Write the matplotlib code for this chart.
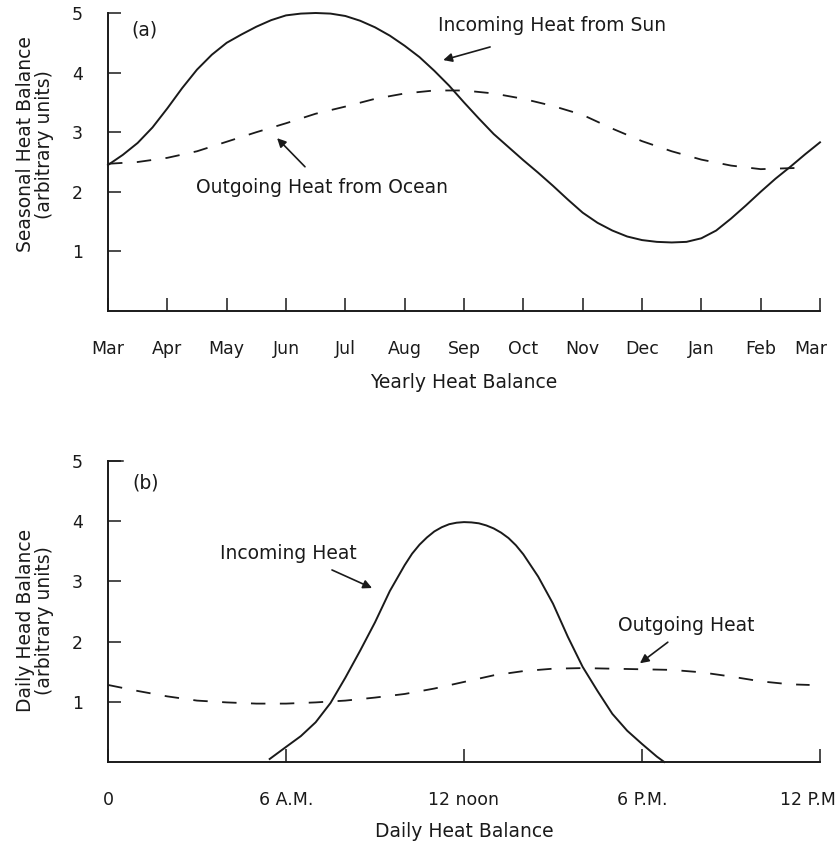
import matplotlib
matplotlib.use("Agg")
import matplotlib.pyplot as plt
from matplotlib.transforms import ScaledTranslation

# ---------------- data ----------------
month_labels = ["Mar", "Apr", "May", "Jun", "Jul", "Aug", "Sep", "Oct",
                "Nov", "Dec", "Jan", "Feb", "Mar"]
month_ticks = list(range(13))

sun_x = [0, 0.25, 0.5, 0.75, 1.0, 1.25, 1.5, 1.75, 2.0, 2.25, 2.5, 2.75,
         3.0, 3.25, 3.5, 3.75, 4.0, 4.25, 4.5, 4.75, 5.0, 5.25, 5.5, 5.75,
         6.0, 6.25, 6.5, 6.75, 7.0, 7.25, 7.5, 7.75, 8.0, 8.25, 8.5, 8.75,
         9.0, 9.25, 9.5, 9.75, 10.0, 10.25, 10.5, 10.75, 11.0, 11.25, 11.5,
         11.75, 12.0]
sun_y = [2.45, 2.62, 2.82, 3.08, 3.4, 3.74, 4.05, 4.3, 4.5, 4.64, 4.77,
         4.88, 4.96, 4.99, 5.0, 4.99, 4.95, 4.87, 4.76, 4.62, 4.45, 4.26,
         4.03, 3.78, 3.5, 3.23, 2.97, 2.75, 2.53, 2.32, 2.1, 1.87, 1.65,
         1.48, 1.35, 1.25, 1.19, 1.16, 1.15, 1.16, 1.22, 1.35, 1.55, 1.77,
         2.0, 2.22, 2.42, 2.63, 2.83]

ocean_x = [0, 0.5, 1.0, 1.5, 2.0, 2.5, 3.0, 3.5, 4.0, 4.5, 5.0, 5.5, 6.0,
           6.5, 7.0, 7.5, 8.0, 8.5, 9.0, 9.5, 10.0, 10.5, 11.0, 11.6]
ocean_y = [2.47, 2.5, 2.57, 2.68, 2.84, 3.0, 3.15, 3.31, 3.43, 3.56, 3.65,
           3.7, 3.7, 3.65, 3.56, 3.44, 3.29, 3.06, 2.85, 2.68, 2.54, 2.44,
           2.38, 2.4]

hour_ticks = [0, 6, 12, 18, 24]
hour_labels = ["0", "6 A.M.", "12 noon", "6 P.M.", "12 P.M"]

day_in_x = [5.45, 6.0, 6.5, 7.0, 7.5, 8.0, 8.5, 9.0, 9.5, 10.0, 10.25, 10.5,
            10.75, 11.0, 11.25, 11.5, 11.75, 12.0, 12.25, 12.5, 12.75, 13.0,
            13.25, 13.5, 13.75, 14.0, 14.5, 15.0, 15.5, 16.0, 16.5, 17.0,
            17.5, 18.0, 18.5, 18.75]
day_in_y = [0.05, 0.25, 0.43, 0.66, 0.98, 1.4, 1.85, 2.32, 2.84, 3.27, 3.46,
            3.61, 3.73, 3.83, 3.9, 3.95, 3.975, 3.985, 3.98, 3.965, 3.93,
            3.88, 3.81, 3.72, 3.6, 3.45, 3.08, 2.63, 2.08, 1.58, 1.18, 0.8,
            0.52, 0.3, 0.09, 0.0]

day_out_x = [0, 1, 2, 3, 4, 5, 6, 7, 8, 9, 10, 11, 12, 13, 14, 15, 16, 17,
             18, 19, 20, 21, 22, 23, 23.65]
day_out_y = [1.28, 1.18, 1.09, 1.02, 0.99, 0.97, 0.97, 0.99, 1.02, 1.07,
             1.13, 1.22, 1.33, 1.44, 1.51, 1.55, 1.56, 1.55, 1.54, 1.53,
             1.49, 1.42, 1.34, 1.29, 1.28]

y_ticks = [1, 2, 3, 4, 5]

# ---------------- style ----------------
plt.rcParams['font.family'] = ['DejaVu Sans']
ink = "#1a1a1a"
fs = 13.5      # annotation / axis-label text
tfs = 12.5     # tick labels

fig = plt.figure(figsize=(8.4, 8.51), dpi=100)
W, H = 840, 851
ax1 = fig.add_axes([108 / W, (H - 311) / H, 712 / W, 298 / H])
ax2 = fig.add_axes([108 / W, (H - 762) / H, 712 / W, 301 / H])

for ax in (ax1, ax2):
    for s in ("top", "right"):
        ax.spines[s].set_visible(False)
    for s in ("left", "bottom"):
        ax.spines[s].set_linewidth(1.4)
        ax.spines[s].set_color(ink)
    ax.set_ylim(0, 5)
    ax.set_yticks(y_ticks)
    ax.tick_params(axis='y', direction='in', length=9.5, width=1.1,
                   pad=18, labelsize=tfs, colors=ink)
    ax.tick_params(axis='x', direction='in', length=9.5, width=1.1,
                   pad=21, labelsize=tfs, colors=ink)
    ax.patch.set_alpha(0)

arrow_kw = dict(arrowstyle='-|>', color=ink, lw=1.2, mutation_scale=13,
                shrinkA=0, shrinkB=0)

# ---- panel (a)
ax1.set_xlim(0, 12)
ax1.set_xticks(month_ticks)
ax1.set_xticklabels(month_labels)
ax1.plot(sun_x, sun_y, color=ink, lw=1.4, clip_on=False)
ax1.plot(ocean_x, ocean_y, color=ink, lw=1.3, linestyle=(0, (8, 8)), clip_on=False)
ax1.text(0.62, 4.72, "(a)", fontsize=fs, color=ink, ha='center', va='center')
ax1.text(7.48, 4.79, "Incoming Heat from Sun", fontsize=fs, color=ink,
         ha='center', va='center')
ax1.annotate("", xy=(5.65, 4.21), xytext=(6.44, 4.43), arrowprops=arrow_kw)
ax1.text(3.61, 2.07, "Outgoing Heat from Ocean", fontsize=fs, color=ink,
         ha='center', va='center')
ax1.annotate("", xy=(2.85, 2.9), xytext=(3.32, 2.42), arrowprops=arrow_kw)
ax1.set_xlabel("Yearly Heat Balance", fontsize=fs, color=ink, labelpad=11)
ax1.set_ylabel("Seasonal Heat Balance\n(arbitrary units)", fontsize=fs,
               color=ink, linespacing=1.0)
ax1.yaxis.set_label_coords(-0.076, 0.56)
last = ax1.get_xticklabels()[-1]
last.set_transform(last.get_transform() + ScaledTranslation(-7 / 72, 0, fig.dpi_scale_trans))

# ---- panel (b)
ax2.set_xlim(0, 24)
ax2.set_xticks(hour_ticks)
ax2.set_xticklabels(hour_labels)
ax2.plot(day_in_x, day_in_y, color=ink, lw=1.4, clip_on=False)
ax2.plot(day_out_x, day_out_y, color=ink, lw=1.3, linestyle=(0, (8, 8)), clip_on=False)
ax2.text(1.28, 4.63, "(b)", fontsize=fs, color=ink, ha='center', va='center')
ax2.text(6.07, 3.47, "Incoming Heat", fontsize=fs, color=ink,
         ha='center', va='center')
ax2.annotate("", xy=(8.9, 2.89), xytext=(7.55, 3.19), arrowprops=arrow_kw)
ax2.text(19.48, 2.26, "Outgoing Heat", fontsize=fs, color=ink,
         ha='center', va='center')
ax2.annotate("", xy=(17.93, 1.64), xytext=(18.87, 1.99), arrowprops=arrow_kw)
ax2.set_xlabel("Daily Heat Balance", fontsize=fs, color=ink, labelpad=9)
ax2.set_ylabel("Daily Head Balance\n(arbitrary units)", fontsize=fs,
               color=ink, linespacing=1.0)
ax2.yaxis.set_label_coords(-0.076, 0.47)
last = ax2.get_xticklabels()[-1]
last.set_transform(last.get_transform() + ScaledTranslation(-9 / 72, 0, fig.dpi_scale_trans))

# top-of-axis cap on panel (b) y-axis
ax2.plot([0, 0.5], [5, 5], color=ink, lw=1.1, clip_on=False)

fig.savefig("out.png", dpi=100, facecolor="white")
